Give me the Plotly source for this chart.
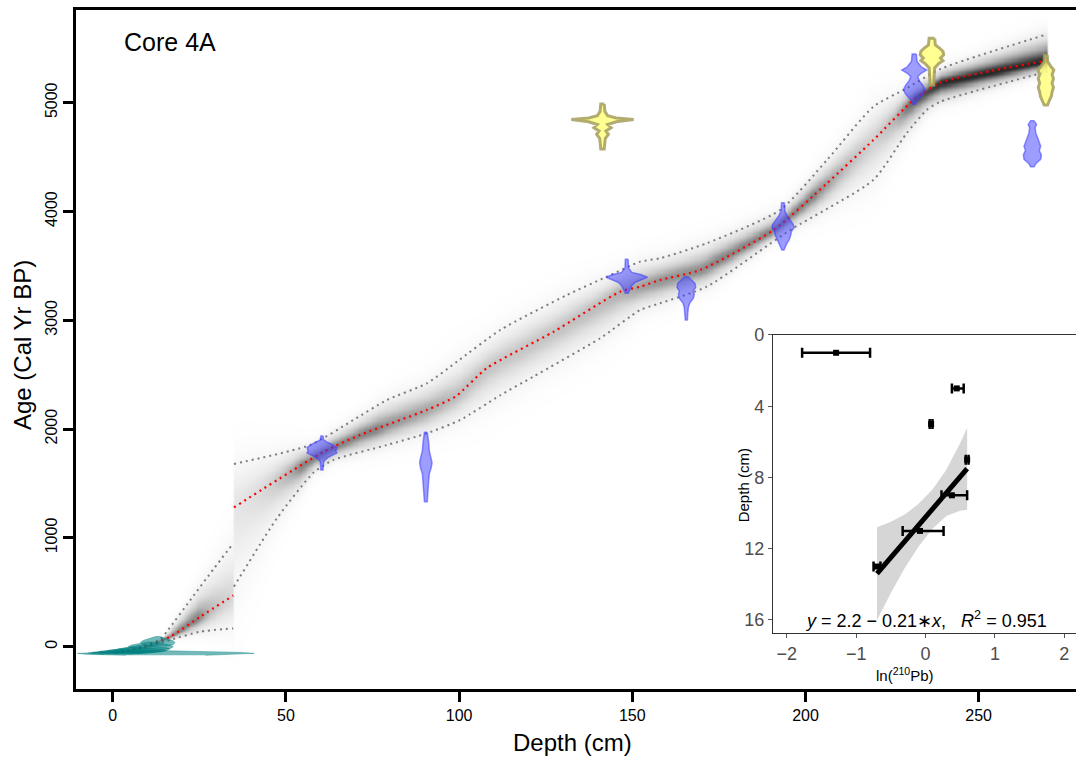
import numpy as np
import plotly.graph_objects as go

# ---------------- age-depth model (cal yr BP) ----------------
# section above the hiatus at 35 cm
top_med_depth = [0.7, 8.9, 16.6, 25.3, 34.8]
top_med_age = [-52, -5, 92, 276, 470]
top_hi_depth = [0.7, 5, 9, 13.6, 15.6, 23.3, 29.1, 34.8]
top_hi_age = [-44, -25, 8, 64, 138, 467, 714, 950]
top_lo_depth = [0.7, 5, 9, 13, 16.6, 25.3, 34.8]
top_lo_age = [-60, -42, -16, 25, 62, 138, 168]

# section below the hiatus
bot_med_depth = [35, 60.9, 71.4, 90.7, 99, 108, 127.3, 146.5, 152.3, 158, 169.6,
                 190.8, 206.2, 219.6, 231.2, 239, 269.7]
bot_med_age = [1280, 1792, 1946, 2176, 2300, 2560, 2895, 3263, 3309, 3370, 3462,
               3830, 4259, 4657, 5025, 5185, 5386]
bot_hi_depth = [35, 57, 69.5, 79.2, 90.7, 99.4, 111.9, 131.1, 142.7, 152.3, 158,
                171.5, 192.7, 206.2, 219.6, 229.2, 239, 269.7]
bot_hi_age = [1680, 1854, 2084, 2268, 2420, 2620, 2911, 3232, 3401, 3539, 3570,
              3708, 4014, 4473, 4963, 5132, 5310, 5628]
bot_lo_depth = [35, 47.4, 58, 63.7, 79.2, 90.7, 100.3, 111.9, 121.4, 140.7, 152.3,
                158, 171.5, 195.6, 219.6, 229.2, 235, 239, 269.7]
bot_lo_age = [552, 1180, 1600, 1716, 1854, 1961, 2084, 2311, 2482, 2834, 3095,
              3156, 3309, 3830, 4290, 4719, 4933, 5010, 5285]
hiatus_depth = 35

# ---------------- calibrated 14C dates (age, half-width in cm) ----------------
d060_depth = 60.4
d060_age = [1937, 1900, 1880, 1860, 1830, 1800, 1780, 1760, 1740, 1720, 1700, 1660, 1624]
d060_w = [0.3, 0.5, 1.5, 3.0, 4.3, 4.0, 4.3, 3.0, 1.8, 1.0, 0.5, 0.4, 0.3]

d090_depth = 90.4
d090_age = [1970, 1930, 1880, 1800, 1740, 1690, 1640, 1590, 1520, 1460, 1400, 1333]
d090_w = [0.4, 0.6, 0.8, 1.0, 1.5, 1.8, 1.5, 1.0, 0.8, 0.7, 0.5, 0.4]

d148_depth = 148.4
d148_age = [3560, 3480, 3440, 3420, 3395, 3370, 3350, 3320, 3290, 3260, 3248]
d148_w = [0.4, 0.5, 1.5, 4.0, 6.0, 4.0, 2.5, 1.5, 1.0, 0.6, 0.4]

d166_depth = 165.6
d166_age = [3400, 3370, 3340, 3300, 3270, 3240, 3200, 3160, 3120, 3060, 3003]
d166_w = [0.5, 1.5, 2.5, 2.7, 2.0, 2.3, 2.0, 1.0, 0.6, 0.4, 0.3]

d193_depth = 193.5
d193_age = [4081, 4000, 3960, 3920, 3880, 3850, 3820, 3780, 3740, 3700, 3660, 3646]
d193_w = [0.4, 0.6, 1.2, 2.0, 3.0, 3.2, 2.5, 2.2, 1.8, 1.0, 0.5, 0.3]

d231_depth = 231.4
d231_age = [5447, 5420, 5380, 5330, 5300, 5270, 5240, 5200, 5160, 5120, 5080, 5040, 5010, 4985]
d231_w = [0.6, 0.7, 0.8, 2.0, 3.6, 2.0, 1.0, 1.5, 2.5, 3.1, 2.5, 1.5, 0.6, 0.4]

d265_depth = 265.5
d265_age = [4835, 4800, 4770, 4720, 4680, 4640, 4600, 4560, 4520, 4480, 4440, 4412]
d265_w = [0.5, 1.2, 0.8, 1.0, 1.5, 2.0, 2.4, 2.0, 2.6, 2.4, 1.0, 0.5]

# outlying dates
d141_depth = 141.4
d141_age = [4988, 4920, 4880, 4860, 4845, 4825, 4800, 4770, 4740, 4710, 4670, 4620, 4574]
d141_w = [0.5, 0.7, 1.5, 4.0, 9.0, 4.0, 1.5, 2.5, 1.0, 1.7, 0.8, 0.6, 0.5]

d236_depth = 236.5
d236_age = [5592, 5560, 5530, 5500, 5470, 5440, 5410, 5385, 5360, 5320, 5250, 5163]
d236_w = [0.8, 1.0, 1.0, 2.3, 3.2, 3.4, 2.5, 3.2, 2.0, 0.8, 0.6, 0.5]

d269_depth = 269.4
d269_age = [5437, 5380, 5330, 5300, 5260, 5220, 5180, 5140, 5100, 5060, 5020, 4979]
d269_w = [0.4, 0.5, 1.5, 2.3, 1.8, 2.2, 1.8, 2.2, 1.8, 1.6, 1.0, 0.5]

# ---------------- 210Pb dates ----------------
pb_date_depth = [1, 3, 5, 7, 9, 11, 13, 15.3]
pb_date_age = [-55, -48, -40, -30, -15, 8, 48, -57]
pb_date_halfwidth = [8, 9, 9, 8.5, 7.5, 6.5, 5, 25.5]
pb_date_halfspan = [16, 18, 22, 26, 30, 36, 45, 22]
pb_shape_rel_age = [-1, -0.6, -0.2, 0.2, 0.6, 1]
pb_shape_rel_w = [0.45, 0.9, 1.0, 0.85, 0.45, 0.12]

# ---------------- inset: ln(210Pb) profile ----------------
pb_depth = [1, 3, 5, 7, 9, 11, 13]
ln_pb = [-1.29, 0.45, 0.08, 0.60, 0.38, -0.08, -0.70]
ln_pb_err_plus = [0.49, 0.10, 0.02, 0.02, 0.22, 0.34, 0.05]
ln_pb_err_minus = [0.49, 0.07, 0.02, 0.02, 0.15, 0.25, 0.05]
fit_depths = [7, 9, 11, 13]
fit_intercept = 2.2
fit_slope = -0.21
fit_r2 = 0.951
band_x = [-0.70, -0.5, -0.3, -0.1, 0.1, 0.3, 0.5, 0.60]
band_half = [2.6, 2.0, 1.5, 1.2, 1.1, 1.3, 1.9, 2.3]

x_ticks = [0, 50, 100, 150, 200, 250]
y_ticks = [0, 1000, 2000, 3000, 4000, 5000]
inset_x_ticks = [-2, -1, 0, 1, 2]
inset_y_ticks = [0, 4, 8, 12, 16]

BLUE_FILL = "rgba(60,60,255,0.5)"
BLUE_LINE = "rgba(60,60,255,0.55)"
YEL_FILL = "rgba(255,255,110,0.75)"
YEL_LINE = "rgba(165,158,95,0.85)"
TEAL = "rgba(0,128,128,0.55)"
FONT = "Liberation Sans, Arial, sans-serif"

fig = go.Figure()

# ---- grey-scale probability cloud of the age model ----
grid_depth = np.arange(-10, 278.01, 0.5)
grid_age = np.arange(-380, 5850, 10.0)
cloud = np.zeros((grid_age.size, grid_depth.size))
for j, d in enumerate(grid_depth):
    if top_med_depth[0] <= d < hiatus_depth:
        m = np.interp(d, top_med_depth, top_med_age)
        u = np.interp(d, top_hi_depth, top_hi_age)
        lo = np.interp(d, top_lo_depth, top_lo_age)
    elif hiatus_depth <= d <= bot_med_depth[-1]:
        m = np.interp(d, bot_med_depth, bot_med_age)
        u = np.interp(d, bot_hi_depth, bot_hi_age)
        lo = np.interp(d, bot_lo_depth, bot_lo_age)
    else:
        continue
    su = max(u - m, 10) / 2.0
    sl = max(m - lo, 10) / 2.0
    w = max(u - lo, 1)
    amp = min((260.0 / w) ** 2.2, 0.42)
    # the base of the core is tightly constrained and renders darkest
    amp = amp + (0.78 - amp) * float(np.clip((d - 226) / 14, 0, 1))
    s = np.where(grid_age >= m, su, sl)
    core = np.exp(-0.5 * ((grid_age - m) / (0.5 * s)) ** 2)
    body = np.exp(-0.5 * ((grid_age - m) / s) ** 2)
    haze = np.exp(-0.5 * ((grid_age - m) / (1.5 * s)) ** 2)
    cloud[:, j] = amp * (0.45 * core + 0.55 * body) + 0.06 * haze
cloud = np.round(np.clip(cloud, 0, 1), 3)

fig.add_trace(go.Heatmap(x=grid_depth, y=grid_age, z=cloud, zmin=0, zmax=1,
                         colorscale=[[0, "rgb(255,255,255)"], [1, "rgb(0,0,0)"]],
                         showscale=False, zsmooth="best", hoverinfo="skip"))

# ---- model range (grey) and median (red) ----
DOT = "2px,4px"
for xs, ys in [(top_hi_depth, top_hi_age), (top_lo_depth, top_lo_age),
               (bot_hi_depth, bot_hi_age), (bot_lo_depth, bot_lo_age)]:
    fig.add_trace(go.Scatter(x=xs, y=ys, mode="lines", hoverinfo="skip",
                             line=dict(color="rgb(125,125,125)", width=2, dash=DOT,
                                       shape="spline", smoothing=0.6)))
for xs, ys in [(top_med_depth, top_med_age), (bot_med_depth, bot_med_age)]:
    fig.add_trace(go.Scatter(x=xs, y=ys, mode="lines", hoverinfo="skip",
                             line=dict(color="rgb(255,0,0)", width=2.2, dash=DOT,
                                       shape="spline", smoothing=0.6)))


def violin(depth, ages, widths, fill, line, lw):
    xs = [depth + w for w in widths] + [depth - w for w in widths[::-1]]
    ys = list(ages) + list(ages[::-1])
    xs.append(xs[0])
    ys.append(ys[0])
    fig.add_trace(go.Scatter(x=xs, y=ys, mode="lines", fill="toself", fillcolor=fill,
                             line=dict(color=line, width=lw), hoverinfo="skip"))


# ---- 210Pb dates ----
for d, a, w, h in zip(pb_date_depth, pb_date_age, pb_date_halfwidth, pb_date_halfspan):
    ages = [a + h * r for r in pb_shape_rel_age]
    xs = [d + w * r for r in pb_shape_rel_w] + [d - w * r for r in pb_shape_rel_w[::-1]]
    ys = ages + ages[::-1]
    fig.add_trace(go.Scatter(x=xs, y=ys, mode="lines", fill="toself", fillcolor=TEAL,
                             line=dict(color="rgba(0,128,128,0.4)", width=1),
                             hoverinfo="skip"))

# ---- calibrated 14C dates ----
for dep, ages, ws in [(d060_depth, d060_age, d060_w), (d090_depth, d090_age, d090_w),
                      (d148_depth, d148_age, d148_w), (d166_depth, d166_age, d166_w),
                      (d193_depth, d193_age, d193_w), (d231_depth, d231_age, d231_w),
                      (d265_depth, d265_age, d265_w)]:
    violin(dep, ages, ws, BLUE_FILL, BLUE_LINE, 1.5)
for dep, ages, ws in [(d141_depth, d141_age, d141_w), (d236_depth, d236_age, d236_w),
                      (d269_depth, d269_age, d269_w)]:
    violin(dep, ages, ws, YEL_FILL, YEL_LINE, 3)

# ---- inset: ln(210Pb) vs depth ----
x_mean = float(np.mean([ln_pb[pb_depth.index(d)] for d in fit_depths]))
d_mean = float(np.mean(fit_depths))
line_slope = fit_r2 / fit_slope  # depth per unit ln(210Pb)
fit_ln = [ln_pb[pb_depth.index(d)] for d in fit_depths]
line_x = [min(fit_ln), max(fit_ln)]
line_y = [d_mean + line_slope * (x - x_mean) for x in line_x]
band_c = [d_mean + line_slope * (x - x_mean) for x in band_x]
band_top = [c - h for c, h in zip(band_c, band_half)]
band_bot = [c + h for c, h in zip(band_c, band_half)]
fig.add_trace(go.Scatter(x=band_x + band_x[::-1], y=band_top + band_bot[::-1],
                         fill="toself", fillcolor="rgba(153,153,153,0.4)",
                         line=dict(width=0), mode="lines", xaxis="x2", yaxis="y2",
                         hoverinfo="skip"))
fig.add_trace(go.Scatter(x=line_x, y=line_y, mode="lines", xaxis="x2", yaxis="y2",
                         line=dict(color="black", width=5), hoverinfo="skip"))
fig.add_trace(go.Scatter(x=ln_pb, y=pb_depth, mode="markers", xaxis="x2", yaxis="y2",
                         marker=dict(symbol="square", size=6, color="black"),
                         error_x=dict(type="data", array=ln_pb_err_plus,
                                      arrayminus=ln_pb_err_minus, color="black",
                                      thickness=2.5, width=5),
                         hoverinfo="skip"))

axis_common = dict(showgrid=False, zeroline=False, showline=True, linecolor="black",
                   linewidth=2.5, ticks="outside", ticklen=10, tickwidth=2.5,
                   tickcolor="black", tickfont=dict(family=FONT, size=16, color="black"))
inset_common = dict(showgrid=False, zeroline=False, showline=True, linecolor="#333333",
                    linewidth=1.3, ticks="outside", ticklen=4, tickwidth=1.2,
                    tickcolor="#555555", tickfont=dict(family=FONT, size=18, color="#4d4d4d"))

fig.update_layout(
    width=1076, height=761,
    margin=dict(l=76, r=0, t=10, b=72),
    plot_bgcolor="white", paper_bgcolor="white",
    showlegend=False,
    font=dict(family=FONT, color="black"),
    xaxis=dict(range=[-10.6, 278.1], tickvals=x_ticks, mirror=True, **axis_common),
    yaxis=dict(range=[-389, 5852], tickvals=y_ticks, tickangle=-90, **axis_common),
    xaxis2=dict(domain=[0.697, 1.0], anchor="y2", range=[-2.2, 2.17],
                tickvals=inset_x_ticks, mirror=True, **inset_common),
    yaxis2=dict(domain=[0.0825, 0.5214], anchor="x2", range=[16.73, 0],
                tickvals=inset_y_ticks, **inset_common),
    annotations=[
        dict(text="Core 4A", x=2.7, y=5558, xref="x", yref="y", xanchor="left",
             yanchor="middle", showarrow=False, font=dict(size=25)),
        dict(text="Depth (cm)", x=0.496, y=-0.0795, xref="paper", yref="paper",
             xanchor="center", yanchor="middle", showarrow=False, font=dict(size=24)),
        dict(text="Age (Cal Yr BP)", x=-0.054, y=0.5066, xref="paper", yref="paper",
             xanchor="center", yanchor="middle", textangle=-90, showarrow=False,
             font=dict(size=24)),
        dict(text="Depth (cm)", x=0.667, y=0.300, xref="paper", yref="paper",
             xanchor="center", yanchor="middle", textangle=-90, showarrow=False,
             font=dict(size=15)),
        dict(text="ln(<sup>210</sup>Pb)", x=0.829, y=0.022, xref="paper", yref="paper",
             xanchor="center", yanchor="middle", showarrow=False, font=dict(size=15)),
        dict(text="<i>y</i> = 2.2 \u2212 0.21\u2217<i>x</i>,\u00a0\u00a0\u00a0<i>R</i><sup>2</sup> = 0.951",
             x=0.0, y=16.0, xref="x2", yref="y2", xanchor="center", yanchor="middle",
             showarrow=False, font=dict(size=18)),
    ],
)

fig.write_html("out.html")
